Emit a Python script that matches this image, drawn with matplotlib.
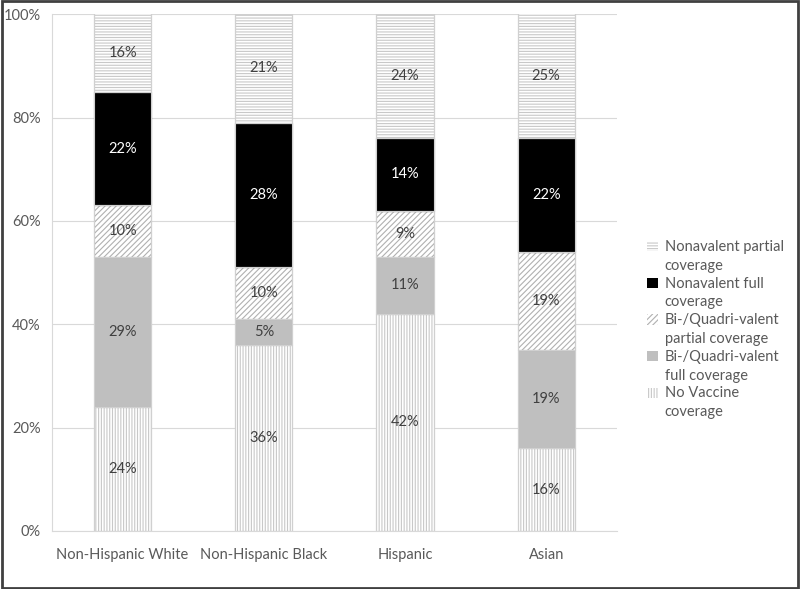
import numpy as np
import matplotlib
matplotlib.use("Agg")
import matplotlib.pyplot as plt
from matplotlib.patches import Rectangle, Patch
from matplotlib.legend_handler import HandlerPatch

plt.rcParams['font.family'] = ['Lato', 'DejaVu Sans']
plt.rcParams['hatch.linewidth'] = 0.8

# --- DATA ---
groups = ["Non-Hispanic White", "Non-Hispanic Black", "Hispanic", "Asian"]
no_vaccine = [24, 36, 42, 16]
biquad_full = [29, 5, 11, 19]
biquad_partial = [10, 10, 9, 19]
nona_full = [22, 28, 14, 22]
nona_partial = [16, 21, 24, 25]

series = [
    ("No Vaccine\ncoverage", no_vaccine),
    ("Bi-/Quadri-valent\nfull coverage", biquad_full),
    ("Bi-/Quadri-valent\npartial coverage", biquad_partial),
    ("Nonavalent full\ncoverage", nona_full),
    ("Nonavalent partial\ncoverage", nona_partial),
]
# face, hatch, hatch colour, label colour
styles = [
    ("white", "||||||", "#c8c8c8", "#404040"),
    ("#bfbfbf", None, "#bfbfbf", "#404040"),
    ("white", "//////", "#b0b0b0", "#404040"),
    ("black", None, "black", "white"),
    ("white", "------", "#c8c8c8", "#404040"),
]

fig = plt.figure(figsize=(8, 5.89), dpi=100)
ax = fig.add_axes([0.065, 0.0985, 0.706, 0.8775])

x = np.arange(len(groups))
bottom = np.zeros(len(groups))
handles = []
for (label, vals), (fc, hatch, ec, tc) in zip(series, styles):
    vals = np.array(vals, dtype=float)
    ax.bar(x, vals, 0.405, bottom=bottom, color=fc, hatch=hatch,
           edgecolor=ec, linewidth=0.8, zorder=2)
    ax.bar(x, vals, 0.405, bottom=bottom, color="none",
           edgecolor="#d0d0d0", linewidth=0.8, zorder=3)
    for xi, b, v in zip(x, bottom, vals):
        top = min(b + v, 100)
        ax.text(xi, (b + top) / 2, f"{int(v)}%", ha="center", va="center",
                color=tc, fontsize=10.5, zorder=4)
    bottom += vals
    handles.append(Patch(facecolor=fc, hatch=hatch, edgecolor=ec,
                         linewidth=0, label=label))

ax.set_xlim(-0.5, len(groups) - 0.5)
ax.set_ylim(0, 100)
ax.set_xticks(x)
ax.set_xticklabels(groups)
ax.set_yticks(np.arange(0, 101, 20))
ax.set_yticklabels([f"{t}%" for t in range(0, 101, 20)])
ax.tick_params(axis="both", length=0, labelsize=10.5, colors="#595959")
ax.tick_params(axis="x", pad=12)
ax.tick_params(axis="y", pad=8)
ax.grid(axis="y", color="#d9d9d9", linewidth=0.8, zorder=0)
for s in ["top", "right"]:
    ax.spines[s].set_visible(False)
for s in ["left", "bottom"]:
    ax.spines[s].set_color("#d9d9d9")
    ax.spines[s].set_linewidth(0.8)


# legend square sits beside the first line of each two-line label
def first_line_box(legend, orig_handle, xdescent, ydescent, width, height, fontsize):
    return Rectangle((-xdescent, -ydescent + 0.72 * fontsize), width, height)


leg = fig.legend(handles=handles[::-1], loc="upper left",
                 bbox_to_anchor=(0.8, 0.605), frameon=False, fontsize=10.5,
                 handlelength=0.7, handleheight=0.7, handletextpad=0.5,
                 labelspacing=0.25, borderpad=0,
                 handler_map={Patch: HandlerPatch(patch_func=first_line_box)})
for t in leg.get_texts():
    t.set_color("#595959")
    t.set_linespacing(1.45)

fig.patches.append(Rectangle((0.002, 0.002), 0.996, 0.996, transform=fig.transFigure,
                             fill=False, edgecolor="#404040", linewidth=2))

fig.savefig("out.png", dpi=100)
